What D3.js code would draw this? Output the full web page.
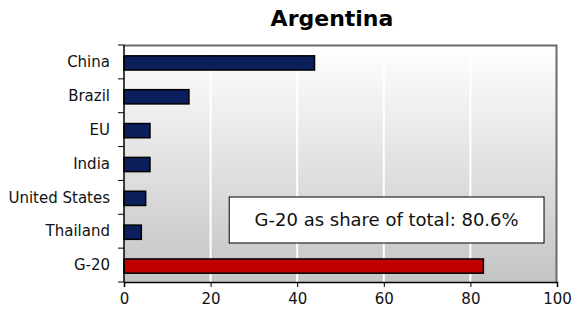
<!DOCTYPE html>
<html>
<head>
<meta charset="utf-8">
<script src="https://cdn.jsdelivr.net/npm/d3@7"></script>
<style>
  body { margin: 0; background: #fff; }
  svg { display: block; font-family: "DejaVu Sans", Verdana, sans-serif; }
</style>
</head>
<body>
<svg id="chart" width="573" height="315"></svg>
<script>
// partner shares for Argentina
const categories = ['China', 'Brazil', 'EU', 'India', 'United States', 'Thailand', 'G-20'];
const values = [44, 15, 6, 6, 5, 4, 83];
const xTicks = [0, 20, 40, 60, 80, 100];
const noteText = 'G-20 as share of total: 80.6%';

const svg = d3.select('#chart');
const margin = { top: 45, right: 16, bottom: 33, left: 124 };
const width = 573 - margin.left - margin.right;
const height = 315 - margin.top - margin.bottom;

const defs = svg.append('defs');
const grad = defs.append('linearGradient')
    .attr('id', 'bg').attr('x1', 0).attr('y1', 0).attr('x2', 0).attr('y2', 1);
grad.append('stop').attr('offset', '0%').attr('stop-color', '#ffffff');
grad.append('stop').attr('offset', '100%').attr('stop-color', '#c4c4c4');

svg.append('text')
    .attr('x', 332).attr('y', 26)
    .attr('text-anchor', 'middle')
    .style('font-size', '22px').style('font-weight', 'bold')
    .text('Argentina');

const g = svg.append('g').attr('transform', `translate(${margin.left},${margin.top})`);

const x = d3.scaleLinear().domain([0, 100]).range([0, width]);
const y = d3.scaleBand().domain(categories).range([0, height]).paddingInner(0.58).paddingOuter(0.29);

g.append('rect')
    .attr('width', width).attr('height', height)
    .attr('fill', 'url(#bg)');

// grid lines
g.selectAll('.grid').data(xTicks.slice(1, -1)).join('line')
    .attr('x1', d => x(d)).attr('x2', d => x(d))
    .attr('y1', 0).attr('y2', height)
    .attr('stroke', '#fff').attr('stroke-width', 2);

// frame: top and right darker gray
g.append('path')
    .attr('d', `M0,0.5H${width - 0.5}V${height}`)
    .attr('fill', 'none').attr('stroke', '#6a6a6a').attr('stroke-width', 2);

g.selectAll('.bar').data(categories).join('rect')
    .attr('x', x(0))
    .attr('y', d => y(d) + 1)
    .attr('width', (d, i) => x(values[i]) - x(0))
    .attr('height', y.bandwidth())
    .attr('fill', d => d === 'G-20' ? '#c00000' : '#0a1f5c')
    .attr('stroke', '#000').attr('stroke-width', 1.5);

// note box
const bx = x(24.3), bw = x(97) - x(24.3);
g.append('rect')
    .attr('x', bx).attr('y', 152)
    .attr('width', bw).attr('height', 46)
    .attr('fill', '#fff').attr('stroke', '#000').attr('stroke-width', 1);
g.append('text')
    .attr('x', bx + bw / 2).attr('y', 175)
    .attr('dy', '0.35em')
    .attr('text-anchor', 'middle')
    .style('font-size', '18px').attr('fill', '#111')
    .text(noteText);

// y axis with ticks at band boundaries
const yAxis = g.append('g');
yAxis.append('line').attr('x1', 0).attr('x2', 0).attr('y1', 0).attr('y2', height)
    .attr('stroke', '#000').attr('stroke-width', 1.5);
const step = height / categories.length;
yAxis.selectAll('.yt').data(d3.range(categories.length + 1)).join('line')
    .attr('x1', -6).attr('x2', 0)
    .attr('y1', d => d * step).attr('y2', d => d * step)
    .attr('stroke', '#000');
yAxis.selectAll('.yl').data(categories).join('text')
    .attr('x', -14)
    .attr('y', d => y(d) + y.bandwidth() / 2)
    .attr('dy', '0.35em')
    .attr('text-anchor', 'end')
    .style('font-size', '15px').attr('fill', '#111')
    .text(d => d);

// x axis
const xAxis = g.append('g')
    .attr('transform', `translate(0,${height})`)
    .call(d3.axisBottom(x).tickValues(xTicks).tickSize(5).tickPadding(6));
xAxis.select('.domain').attr('stroke', '#000').attr('stroke-width', 1.5);
xAxis.selectAll('text').style('font-size', '15px').attr('fill', '#111')
    .style('font-family', '"DejaVu Sans", Verdana, sans-serif');
</script>
</body>
</html>
